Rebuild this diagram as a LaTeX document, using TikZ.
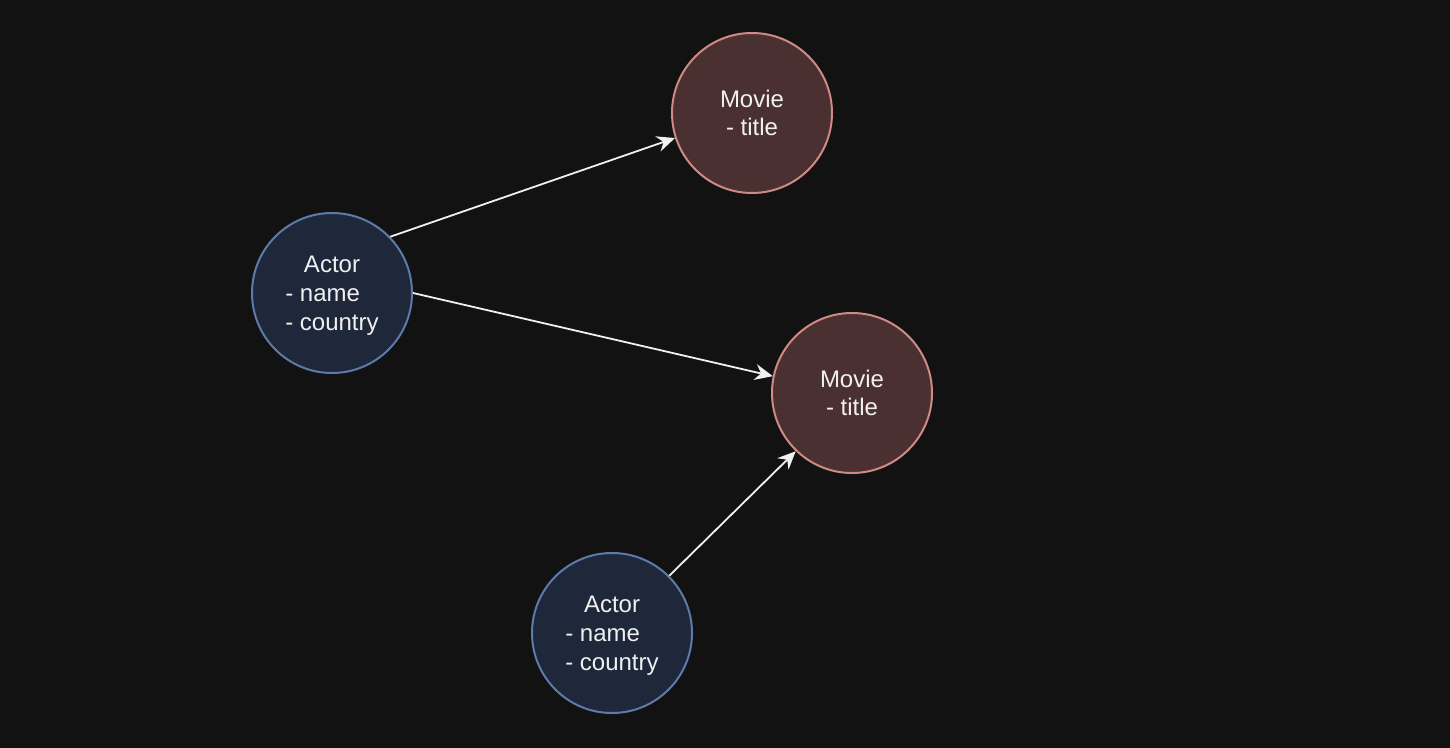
\documentclass[tikz,border=0pt]{standalone}
\usepackage{fontspec}
\setmainfont{Liberation Sans}
\usetikzlibrary{arrows.meta}

\begin{document}
\begin{tikzpicture}[x=0.5pt,y=-0.5pt,
    entity/.style={circle,minimum size=80pt,inner sep=0pt,line width=1pt,text=txt,font=\fontsize{12}{14.4}\selectfont},
    actor/.style={entity,draw=actorline,fill=actorfill},
    movie/.style={entity,draw=movieline,fill=moviefill,align=center},
    rel/.style={-{Stealth[length=9pt,width=8pt,inset=3pt]},line width=0.9pt,draw=txt}]
    \definecolor{bg}{RGB}{18,18,18}
    \definecolor{txt}{RGB}{240,240,240}
    \definecolor{actorfill}{RGB}{30,40,58}
    \definecolor{actorline}{RGB}{92,122,170}
    \definecolor{moviefill}{RGB}{74,48,48}
    \definecolor{movieline}{RGB}{207,138,133}

    \fill[bg] (0,0) rectangle (1450,748);
    \useasboundingbox (0,0) rectangle (1450,748);

    \node[actor] (actorA) at (332,293) {\begin{tabular}{@{}l@{}}\multicolumn{1}{@{}c@{}}{\rule{0pt}{13pt}Actor}\\- name\\- country\end{tabular}};
    \node[actor] (actorB) at (612,633) {\begin{tabular}{@{}l@{}}\multicolumn{1}{@{}c@{}}{\rule{0pt}{13pt}Actor}\\- name\\- country\end{tabular}};
    \node[movie] (movieA) at (752,113) {Movie\\- title};
    \node[movie] (movieB) at (852,393) {Movie\\- title};

    \draw[rel] (actorA.44) -- (movieA.198);
    \draw[rel] (actorA.0) -- (movieB.168);
    \draw[rel] (actorB.45) -- (movieB.226);
  \end{tikzpicture}
\end{document}
